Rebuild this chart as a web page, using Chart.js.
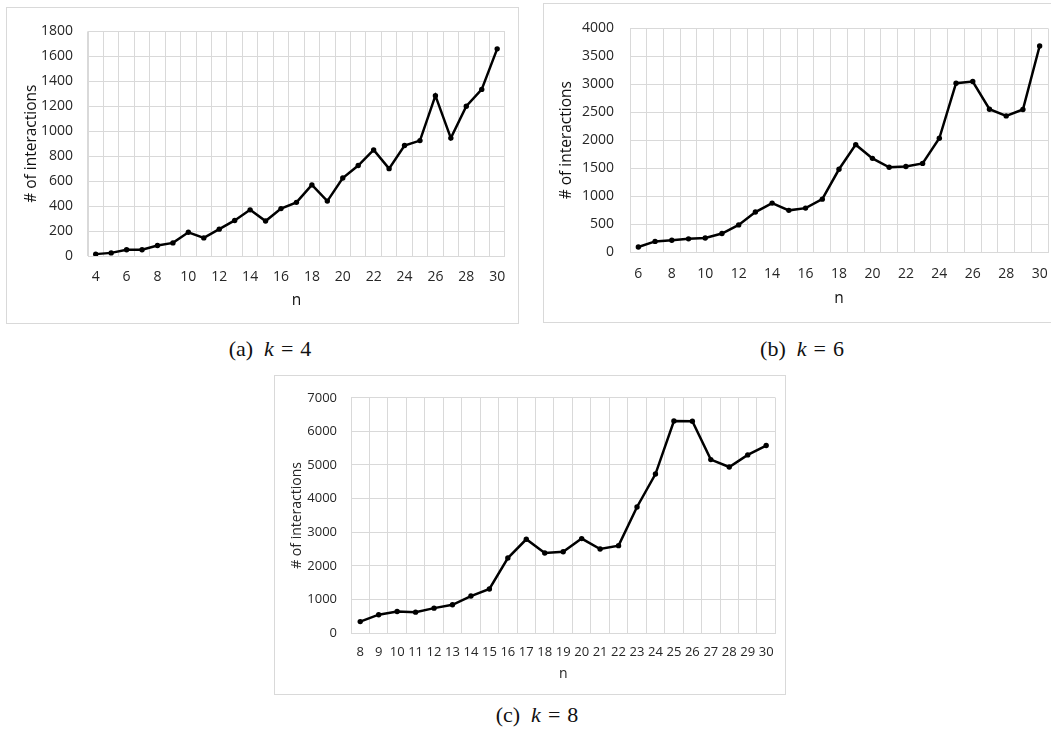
<!DOCTYPE html>
<html>
<head>
<meta charset="utf-8">
<script src="https://cdn.jsdelivr.net/npm/chart.js@4"></script>
<style>
  body { margin: 0; background: #fff; width: 1051px; height: 735px; position: relative; overflow: hidden; }
  .box { position: absolute; border: 1px solid #d9d9d9; background: #fff; }
  .cap { position: absolute; transform: translate(-50%, -50%); font-family: 'Liberation Serif', serif; font-size: 22px; color: #111; white-space: nowrap; }
  .cap i { font-style: italic; margin-left: 11px; }
  .cap .eq { margin: 0 7px; }
</style>
</head>
<body>
<div class="box" style="left:6px; top:7px; width:511px; height:315px;"><canvas id="chart-k4"></canvas></div>
<div class="box" style="left:543px; top:3px; width:520px; height:318px;"><canvas id="chart-k6"></canvas></div>
<div class="box" style="left:274px; top:375px; width:510px; height:318px;"><canvas id="chart-k8"></canvas></div>

<div class="cap" style="left:270px; top:349px;">(a)<i>k</i><span class="eq">=</span>4</div>
<div class="cap" style="left:802px; top:349px;">(b)<i>k</i><span class="eq">=</span>6</div>
<div class="cap" style="left:537px; top:715px;">(c)<i>k</i><span class="eq">=</span>8</div>

<script>
// Data
const nK4 = [4, 5, 6, 7, 8, 9, 10, 11, 12, 13, 14, 15, 16, 17, 18, 19, 20, 21, 22, 23, 24, 25, 26, 27, 28, 29, 30];
const interactionsK4 = [15, 25, 50, 50, 84, 105, 190, 145, 215, 285, 370, 280, 380, 430, 570, 440, 625, 725, 850, 700, 885, 925, 1285, 945, 1200, 1335, 1660];

const nK6 = [6, 7, 8, 9, 10, 11, 12, 13, 14, 15, 16, 17, 18, 19, 20, 21, 22, 23, 24, 25, 26, 27, 28, 29, 30];
const interactionsK6 = [90, 190, 210, 235, 250, 330, 485, 715, 875, 745, 785, 945, 1480, 1920, 1675, 1515, 1530, 1585, 2035, 3020, 3050, 2555, 2435, 2550, 3685];

const nK8 = [8, 9, 10, 11, 12, 13, 14, 15, 16, 17, 18, 19, 20, 21, 22, 23, 24, 25, 26, 27, 28, 29, 30];
const interactionsK8 = [340, 545, 640, 620, 740, 840, 1100, 1310, 2230, 2790, 2380, 2420, 2810, 2500, 2600, 3750, 4730, 6310, 6300, 5160, 4940, 5300, 5580];

const yTicksK4 = { max: 1800, step: 200 };
const yTicksK6 = { max: 4000, step: 500 };
const yTicksK8 = { max: 7000, step: 1000 };

Chart.defaults.font.family = "'Open Sans', sans-serif";
Chart.defaults.color = '#262626';

const gridColor = '#d9d9d9';

function drawChart(id, labels, values, yTicks, cfg) {
  new Chart(document.getElementById(id), {
    type: 'line',
    data: {
      labels,
      datasets: [{
        data: values,
        borderColor: '#000',
        backgroundColor: '#000',
        borderWidth: 2.5,
        pointRadius: 2.7,
        pointBorderWidth: 0,
        tension: 0
      }]
    },
    options: {
      responsive: true,
      maintainAspectRatio: false,
      animation: false,
      events: [],
      layout: { padding: { top: cfg.padTop, right: cfg.padRight, left: 0, bottom: 0 } },
      plugins: { legend: { display: false }, tooltip: { enabled: false } },
      scales: {
        x: {
          offset: true,
          grid: { offset: true, color: gridColor, drawTicks: false },
          border: { color: gridColor },
          ticks: {
            autoSkip: false,
            maxRotation: 0,
            padding: cfg.xTickPad,
            font: { size: cfg.tickSize },
            callback: function (v, i) {
              return (cfg.every2 && i % 2 === 1) ? '' : this.getLabelForValue(v);
            }
          },
          title: { display: true, text: 'n', font: { size: cfg.titleSize }, padding: { top: 0, bottom: cfg.nPad }, color: cfg.titleColor },
          afterFit: (s) => { s.height = cfg.xHeight; }
        },
        y: {
          min: 0,
          max: yTicks.max,
          grid: { color: gridColor, drawTicks: false },
          border: { color: gridColor },
          ticks: {
            stepSize: yTicks.step,
            padding: cfg.yTickPad,
            font: { size: cfg.tickSize },
            callback: (v) => String(v)
          },
          title: { display: true, text: '# of interactions', font: { size: cfg.titleSize }, padding: { top: cfg.yTitlePad, bottom: 0 }, color: cfg.titleColor },
          afterFit: (s) => { s.width = cfg.yWidth; }
        }
      }
    }
  });
}

drawChart('chart-k4', nK4, interactionsK4, yTicksK4, {
  padTop: 13, padRight: 12, yWidth: 81, xHeight: 67,
  xTickPad: 12.6, yTickPad: 15, nPad: 12.7, yTitlePad: 15.7,
  tickSize: 14, titleSize: 15.5, every2: true, titleColor: '#111'
});
drawChart('chart-k6', nK6, interactionsK6, yTicksK6, {
  padTop: 15, padRight: 16, yWidth: 86, xHeight: 70,
  xTickPad: 13.6, yTickPad: 16, nPad: 13.7, yTitlePad: 13.7,
  tickSize: 14, titleSize: 15.5, every2: true, titleColor: '#111'
});
drawChart('chart-k8', nK8, interactionsK8, yTicksK8, {
  padTop: 13, padRight: 9, yWidth: 76, xHeight: 61,
  xTickPad: 11.2, yTickPad: 14, nPad: 11.6, yTitlePad: 13.6,
  tickSize: 13, titleSize: 14, every2: false, titleColor: '#262626'
});
</script>
</body>
</html>
